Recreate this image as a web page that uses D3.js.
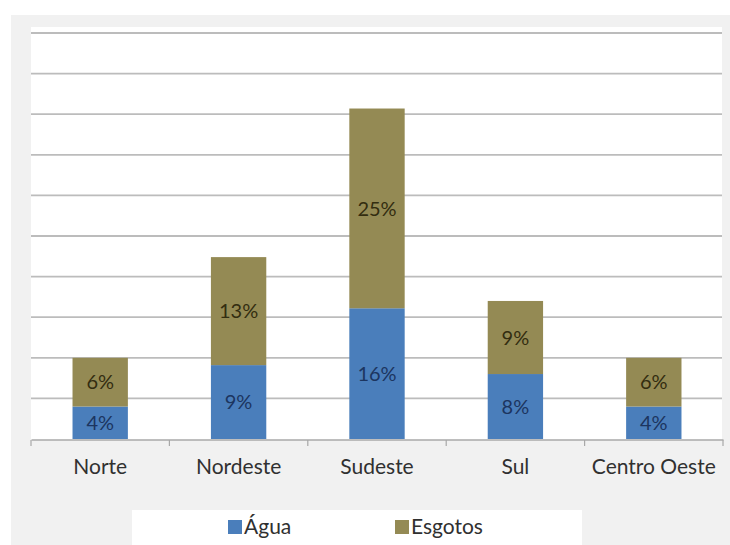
<!DOCTYPE html>
<html><head><meta charset="utf-8">
<script src="https://cdn.jsdelivr.net/npm/d3@7"></script>
<style>body{margin:0;background:#fff;}svg{display:block;}</style>
</head><body>
<svg id="c" width="730" height="545"></svg>
<script>
const categories = ["Norte","Nordeste","Sudeste","Sul","Centro Oeste"];
const agua = [4, 9.1, 16.1, 8, 4];
const esgotos = [6, 13.3, 24.6, 9, 6];
const seriesNames = ["Água","Esgotos"];
const colors = ["#4a7ebb","#948a54"];
const textColors = ["#1c3560","#332d10"];
const yTicks = [0,5,10,15,20,25,30,35,40,45,50];

const svg = d3.select("#c");
const font = "Lato, 'Open Sans', sans-serif";

svg.append("rect").attr("x",11).attr("y",15).attr("width",719).attr("height",530).attr("fill","#f1f1f1");
svg.append("rect").attr("x",31).attr("y",27).attr("width",691).attr("height",413).attr("fill","#ffffff");

const x = d3.scaleBand().domain(categories).range([31,723]).paddingInner(0.6).paddingOuter(0.3);
const y = d3.scaleLinear().domain([0,50]).range([439,33]);

// gridlines
svg.append("g").selectAll("line").data(yTicks.slice(1)).join("line")
  .attr("x1",31).attr("x2",722).attr("y1",d=>y(d)).attr("y2",d=>y(d))
  .attr("stroke","#bcbcbc").attr("stroke-width",1.8);

const table = categories.map((c,i)=>({cat:c, "Água":agua[i], "Esgotos":esgotos[i]}));
const stack = d3.stack().keys(seriesNames)(table);

const g = svg.append("g");
stack.forEach((s,si)=>{
  g.selectAll(null).data(s).join("rect")
    .attr("x",d=>x(d.data.cat)).attr("width",x.bandwidth())
    .attr("y",d=>y(d[1])).attr("height",d=>y(d[0])-y(d[1]))
    .attr("fill",colors[si]);
  g.selectAll(null).data(s).join("text")
    .attr("x",d=>x(d.data.cat)+x.bandwidth()/2)
    .attr("y",d=>(y(d[0])+y(d[1]))/2)
    .attr("dy","0.36em").attr("text-anchor","middle")
    .attr("font-family",font).attr("font-size",20)
    .attr("fill",textColors[si])
    .text(d=>Math.round(d[1]-d[0])+"%");
});

// x axis
const ax = d3.axisBottom(x).tickSize(0).tickPadding(20);
const axg = svg.append("g").attr("transform","translate(0,439.5)").call(ax);
axg.select(".domain").attr("stroke","#a8a8a8").attr("stroke-width",1.5);
axg.selectAll("text").attr("font-family",font).attr("font-size",21).attr("fill","#303030");
// category boundary ticks
const edges = categories.map((c,i)=>31 + i*x.step()).concat([31+categories.length*x.step()]);
svg.append("g").selectAll("line").data(edges).join("line")
  .attr("x1",d=>d).attr("x2",d=>d).attr("y1",440).attr("y2",446)
  .attr("stroke","#a8a8a8").attr("stroke-width",1.2);

// legend
svg.append("rect").attr("x",132).attr("y",510).attr("width",450).attr("height",35).attr("fill","#ffffff");
const lx = [228, 395];
seriesNames.forEach((n,i)=>{
  svg.append("rect").attr("x",lx[i]).attr("y",520).attr("width",14).attr("height",14).attr("fill",colors[i]);
  svg.append("text").attr("x",lx[i]+16).attr("y",534)
    .attr("font-family",font).attr("font-size",21).attr("fill","#303030").text(n);
});
</script>
</body></html>
